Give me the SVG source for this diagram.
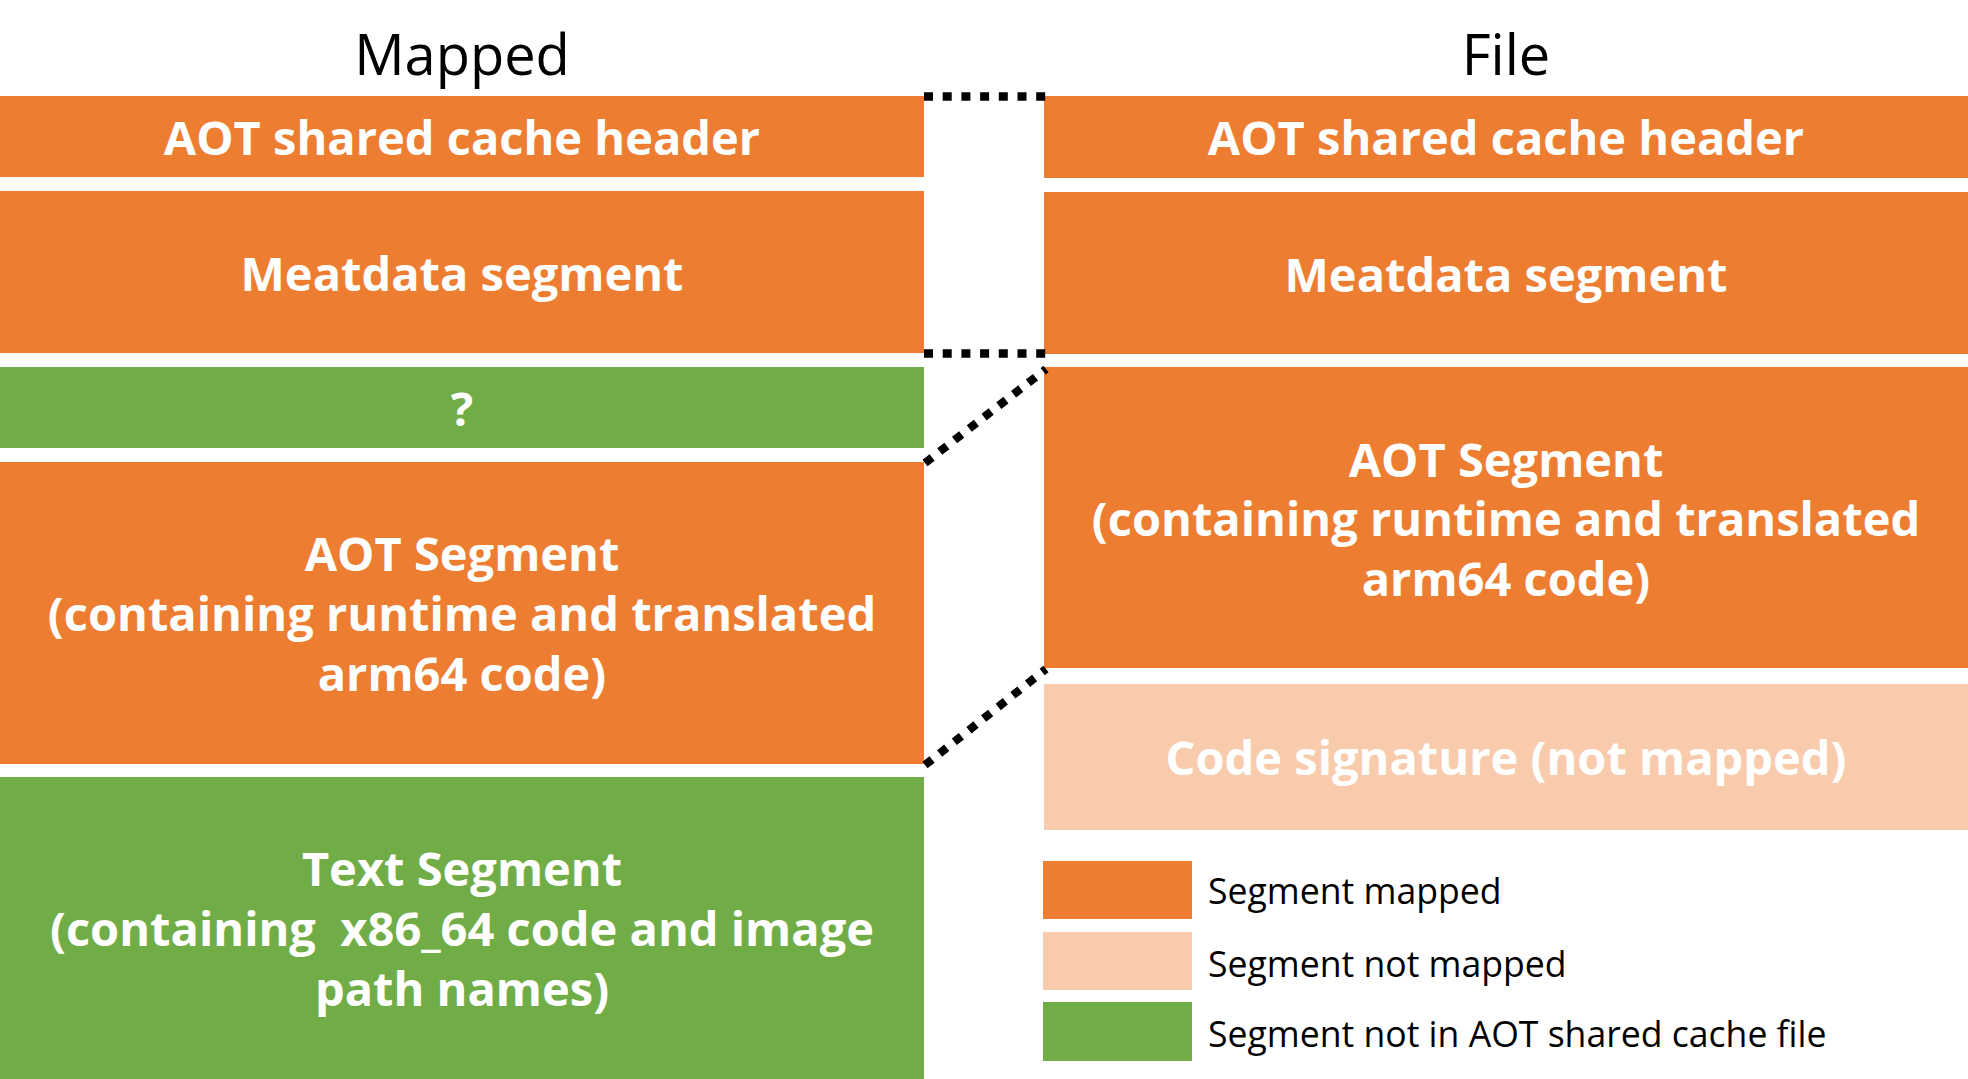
<svg xmlns="http://www.w3.org/2000/svg" width="1968" height="1079" viewBox="0 0 1968 1079">
<style>
.or{fill:#ED7D31}.gr{fill:#70AD47}.pe{fill:#F8CBAD}
.t{font-family:"Open Sans","Noto Sans","Liberation Sans",sans-serif;font-weight:700;font-size:47px;fill:#fff;text-anchor:middle}
.h{font-family:"Open Sans","Noto Sans","Liberation Sans",sans-serif;font-size:56px;fill:#000;text-anchor:middle}
.l{font-family:"Open Sans","Noto Sans","Liberation Sans",sans-serif;font-size:35.6px;fill:#000}
.d{fill:none;stroke:#000;stroke-width:8.3;stroke-dasharray:9 9.7}
</style>
<rect width="1968" height="1079" fill="#fff"/>
<text class="h" x="462" y="75">Mapped</text>
<text class="h" x="1506" y="75">File</text>
<g id="m-header"><rect class="or" x="0" y="96" width="924" height="81"/><text class="t" x="462" y="155">AOT shared cache header</text></g>
<g id="m-meta"><rect class="or" x="0" y="191" width="924" height="162"/><text class="t" x="462" y="291">Meatdata segment</text></g>
<g id="m-unknown"><rect class="gr" x="0" y="367" width="924" height="81"/><text class="t" x="462" y="426">?</text></g>
<g id="m-aot"><rect class="or" x="0" y="462" width="924" height="302"/><text class="t" x="462" y="571">AOT Segment</text><text class="t" x="462" y="631">(containing runtime and translated</text><text class="t" x="462" y="691">arm64 code)</text></g>
<g id="m-text"><rect class="gr" x="0" y="777" width="924" height="302"/><text class="t" x="462" y="886">Text Segment</text><text class="t" x="462" y="946" xml:space="preserve">(containing  x86_64 code and image</text><text class="t" x="462" y="1006">path names)</text></g>
<g id="f-header"><rect class="or" x="1044" y="96" width="924" height="82"/><text class="t" x="1506" y="155">AOT shared cache header</text></g>
<g id="f-meta"><rect class="or" x="1044" y="192" width="924" height="162"/><text class="t" x="1506" y="292">Meatdata segment</text></g>
<g id="f-aot"><rect class="or" x="1044" y="367" width="924" height="301"/><text class="t" x="1506" y="477">AOT Segment</text><text class="t" x="1506" y="536">(containing runtime and translated</text><text class="t" x="1506" y="596">arm64 code)</text></g>
<g id="f-sig"><rect class="pe" x="1044" y="684" width="924" height="146"/><text class="t" x="1506" y="775">Code signature (not mapped)</text></g>
<g id="connectors">
<path class="d" d="M924 96.5H1046"/>
<path class="d" d="M924 353.5H1046"/>
<path class="d" d="M925 463L1046 369"/>
<path class="d" d="M925 765L1046 669"/>
</g>
<g id="legend">
<rect class="or" x="1043" y="861" width="149" height="58"/><text class="l" x="1208" y="904">Segment mapped</text>
<rect class="pe" x="1043" y="932" width="149" height="58"/><text class="l" x="1208" y="977">Segment not mapped</text>
<rect class="gr" x="1043" y="1002" width="149" height="59"/><text class="l" x="1208" y="1047">Segment not in AOT shared cache file</text>
</g>
</svg>
